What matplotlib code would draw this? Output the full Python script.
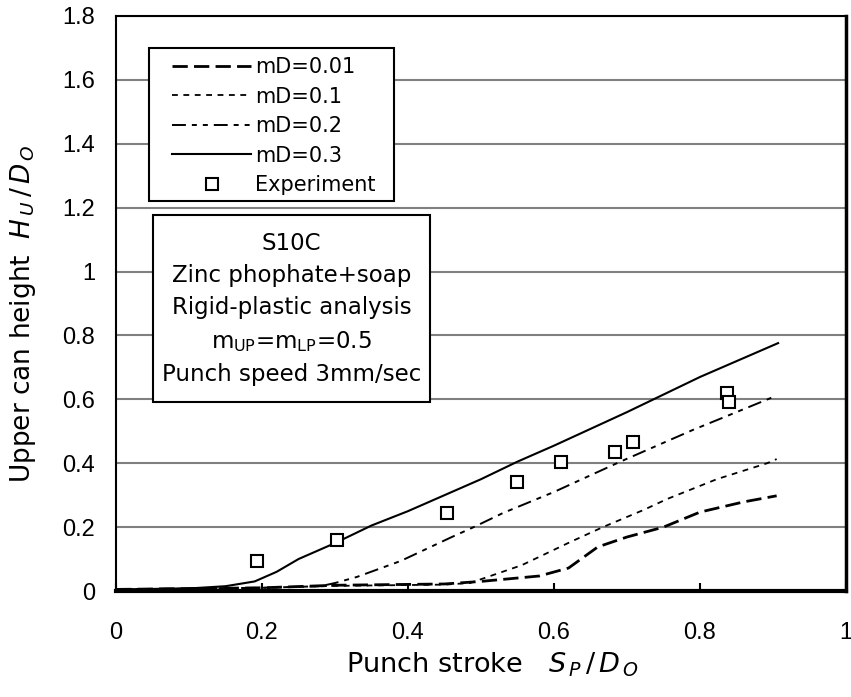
import matplotlib
matplotlib.use("Agg")
import matplotlib.pyplot as plt
from matplotlib.patches import Rectangle

plt.rcParams['font.family'] = ['DejaVu Sans']
plt.rcParams['mathtext.fontset'] = 'dejavusans'
plt.rcParams['lines.scale_dashes'] = False

# Punch stroke Sp/Do vs upper can height Hu/Do
x_md001 = [0.0, 0.2, 0.3, 0.45, 0.50, 0.58, 0.62, 0.66, 0.70, 0.75, 0.80, 0.86, 0.905]
y_md001 = [0.005, 0.010, 0.018, 0.022, 0.030, 0.047, 0.072, 0.138, 0.169, 0.200, 0.247, 0.279, 0.298]

x_md01 = [0.0, 0.2, 0.3, 0.45, 0.485, 0.556, 0.622, 0.667, 0.723, 0.755, 0.823, 0.892, 0.905]
y_md01 = [0.005, 0.010, 0.016, 0.020, 0.025, 0.081, 0.153, 0.200, 0.254, 0.288, 0.350, 0.400, 0.413]

x_md02 = [0.0, 0.2, 0.28, 0.30, 0.33, 0.39, 0.46, 0.49, 0.53, 0.60, 0.69, 0.79, 0.85, 0.90]
y_md02 = [0.005, 0.010, 0.015, 0.025, 0.044, 0.094, 0.169, 0.200, 0.244, 0.310, 0.404, 0.504, 0.560, 0.607]

x_md03 = [0.0, 0.10, 0.15, 0.19, 0.22, 0.25, 0.30, 0.35, 0.40, 0.45, 0.50, 0.55, 0.60, 0.70, 0.80, 0.907]
y_md03 = [0.005, 0.008, 0.015, 0.030, 0.060, 0.100, 0.150, 0.205, 0.250, 0.300, 0.350, 0.405, 0.455, 0.560, 0.670, 0.776]

x_exp = [0.193, 0.303, 0.453, 0.549, 0.610, 0.684, 0.708, 0.837, 0.840]
y_exp = [0.094, 0.160, 0.244, 0.341, 0.404, 0.435, 0.467, 0.620, 0.592]

xticks = [0, 0.2, 0.4, 0.6, 0.8, 1]
xtick_labels = ['0', '0.2', '0.4', '0.6', '0.8', '1']
yticks = [0, 0.2, 0.4, 0.6, 0.8, 1.0, 1.2, 1.4, 1.6, 1.8]
ytick_labels = ['0', '0.2', '0.4', '0.6', '0.8', '1', '1.2', '1.4', '1.6', '1.8']

W, H = 851, 697


def fx(px):
    return px / W


def fy(py):
    return 1 - py / H


fig = plt.figure(figsize=(W / 100, H / 100), dpi=100)
ax = fig.add_axes([fx(116), fy(591), 730 / W, 575 / H])

ax.set_xlim(0, 1)
ax.set_ylim(0, 1.8)
ax.set_xticks(xticks)
ax.set_xticklabels(xtick_labels, family='Liberation Sans')
ax.set_yticks(yticks)
ax.set_yticklabels(ytick_labels, family='Liberation Sans')
ax.tick_params(axis='both', direction='in', labelsize=17, length=6, width=1.5)
ax.tick_params(axis='x', pad=22)
ax.tick_params(axis='y', pad=15, length=0)
ax.yaxis.grid(True, color='#808080', linewidth=1.5)
ax.set_axisbelow(True)
for s in ('left', 'top'):
    ax.spines[s].set_linewidth(1.5)
ax.spines['right'].set_linewidth(2.5)
ax.spines['bottom'].set_linewidth(3)

ax.plot(x_md001, y_md001, color='black', linewidth=2.0, linestyle=(0, (11, 4.5)), label='mD=0.01')
ax.plot(x_md01, y_md01, color='black', linewidth=1.3, linestyle=(0, (4.2, 4.0)), label='mD=0.1')
ax.plot(x_md02, y_md02, color='black', linewidth=1.4,
        linestyle=(0, (10, 4.3, 3.6, 4.3, 3.6, 4.3)), label='mD=0.2')
ax.plot(x_md03, y_md03, color='black', linewidth=1.5, linestyle='-', label='mD=0.3')
ax.plot(x_exp, y_exp, linestyle='none', marker='s', markersize=8,
        markerfacecolor='white', markeredgecolor='black', markeredgewidth=1.5,
        label='Experiment')

# legend frame and entries
ax.add_patch(Rectangle((fx(149), fy(201)), fx(394) - fx(149), fy(48) - fy(201),
                       transform=fig.transFigure, facecolor='white', edgecolor='black',
                       linewidth=1.5, zorder=4, clip_on=False))
leg = ax.legend(loc='upper left', bbox_to_anchor=(fx(172), fy(57)),
                bbox_transform=fig.transFigure, fontsize=15, frameon=False,
                handlelength=3.8, handletextpad=0.2, labelspacing=0.46,
                borderpad=0, borderaxespad=0)
leg.set_zorder(5)

# condition box
ax.add_patch(Rectangle((fx(153), fy(402)), fx(430) - fx(153), fy(215) - fy(402),
                       transform=fig.transFigure, facecolor='white', edgecolor='black',
                       linewidth=1.5, zorder=4, clip_on=False))
info = ("S10C\nZinc phophate+soap\nRigid-plastic analysis\n"
        "m$_{\\mathrm{UP}}$=m$_{\\mathrm{LP}}$=0.5\nPunch speed 3mm/sec")
fig.text(fx(291.5), fy(309), info, ha='center', va='center', fontsize=16.5,
         linespacing=1.52, multialignment='center', zorder=6)

fig.text(fx(492), fy(665), 'Punch stroke   $\\mathit{S_{\\,P}\\,/\\,D_{\\,O}}$',
         ha='center', va='center', fontsize=19.5)
fig.text(fx(23), fy(314), 'Upper can height  $\\mathit{H_{\\,U}\\,/\\,D_{\\,O}}$',
         ha='center', va='center', fontsize=19, rotation=90)

fig.savefig('out.png', dpi=100, facecolor='white')
